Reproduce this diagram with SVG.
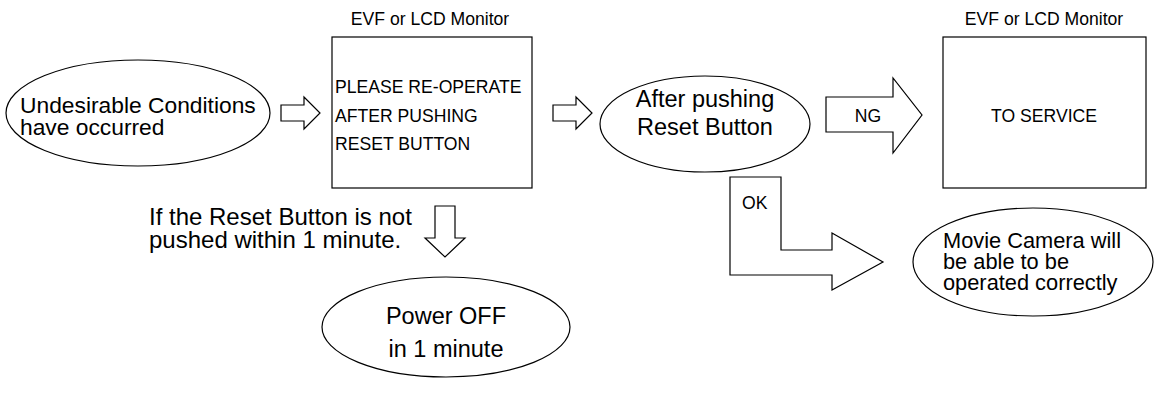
<svg xmlns="http://www.w3.org/2000/svg" width="1155" height="396" viewBox="0 0 1155 396">
<style>
.sh{fill:#fff;stroke:#000;stroke-width:1.2}
.t{font-family:"Liberation Sans",Arial,sans-serif;fill:#000}
.big{font-size:23.5px}
.sm{font-size:17.6px}
.mid{text-anchor:middle}
</style>
<rect width="1155" height="396" fill="#fff"/>
<g id="connectors">
<polygon class="sh" points="281,105 304,105 304,97 320,113 304,129 304,121 281,121"/>
<polygon class="sh" points="553,105 576,105 576,97 592,113 576,129 576,121 553,121"/>
<polygon class="sh" points="826,97 893,97 893,78 922,115 893,153 893,132 826,132"/>
<text class="t sm mid" x="868" y="122">NG</text>
<polygon class="sh" points="730,177 781,177 781,250 832,250 832,233 883,262 832,290 832,275 730,275"/>
<text class="t sm" x="742" y="209">OK</text>
<polygon class="sh" points="435,206 455,206 455,238 465,238 445,257 425,238 435,238"/>
<text class="t" x="149" y="225" style="font-size:24px">If the Reset Button is not</text>
<text class="t" x="149" y="248" style="font-size:24px">pushed within 1 minute.</text>
</g>
<g id="n1">
<ellipse class="sh" cx="138" cy="113" rx="132" ry="53"/>
<text class="t" x="20" y="113" style="font-size:22.8px">Undesirable Conditions</text>
<text class="t" x="20" y="135" style="font-size:22.8px">have occurred</text>
</g>
<g id="n2">
<text class="t sm mid" x="430" y="25">EVF or LCD Monitor</text>
<rect class="sh" x="332" y="37" width="200" height="151"/>
<text class="t sm" x="335" y="93">PLEASE RE-OPERATE</text>
<text class="t sm" x="335" y="122">AFTER PUSHING</text>
<text class="t sm" x="335" y="150">RESET BUTTON</text>
</g>
<g id="n3">
<ellipse class="sh" cx="705" cy="124" rx="105" ry="48"/>
<text class="t big mid" x="705" y="107">After pushing</text>
<text class="t big mid" x="705" y="135">Reset Button</text>
</g>
<g id="n4">
<text class="t sm mid" x="1044" y="25">EVF or LCD Monitor</text>
<rect class="sh" x="943" y="37" width="203" height="151"/>
<text class="t sm mid" x="1044" y="122">TO SERVICE</text>
</g>
<g id="n5">
<ellipse class="sh" cx="446" cy="327" rx="124" ry="50"/>
<text class="t big mid" x="446" y="324">Power OFF</text>
<text class="t big mid" x="446" y="357">in 1 minute</text>
</g>
<g id="n6">
<ellipse class="sh" cx="1033" cy="262" rx="120" ry="54"/>
<text class="t" x="943" y="248" style="font-size:21.8px">Movie Camera will</text>
<text class="t" x="943" y="269" style="font-size:21.8px">be able to be</text>
<text class="t" x="943" y="290" style="font-size:21.8px">operated correctly</text>
</g>
</svg>
